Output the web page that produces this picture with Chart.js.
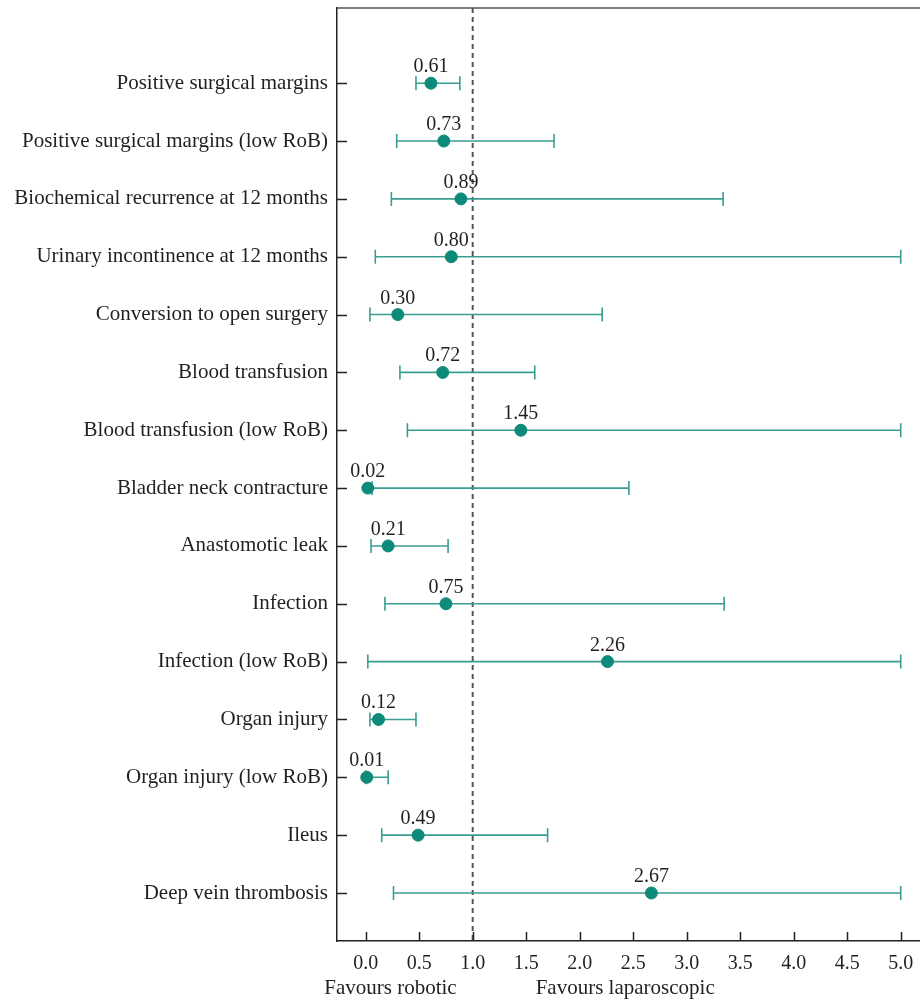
<!DOCTYPE html>
<html>
<head>
<meta charset="utf-8">
<script src="https://cdn.jsdelivr.net/npm/chart.js@4"></script>
<style>
  html, body { margin: 0; padding: 0; background: #fff; }
  #wrap { width: 920px; height: 1001px; position: relative; }
</style>
</head>
<body>
<div id="wrap"><canvas id="forest"></canvas></div>
<script>
var outcomes = [
  "Positive surgical margins",
  "Positive surgical margins (low RoB)",
  "Biochemical recurrence at 12 months",
  "Urinary incontinence at 12 months",
  "Conversion to open surgery",
  "Blood transfusion",
  "Blood transfusion (low RoB)",
  "Bladder neck contracture",
  "Anastomotic leak",
  "Infection",
  "Infection (low RoB)",
  "Organ injury",
  "Organ injury (low RoB)",
  "Ileus",
  "Deep vein thrombosis"
];
var estimate = [0.61, 0.73, 0.89, 0.80, 0.30, 0.72, 1.45, 0.02, 0.21, 0.75, 2.26, 0.12, 0.01, 0.49, 2.67];
var lower = [0.47, 0.29, 0.24, 0.09, 0.04, 0.32, 0.39, 0.06, 0.05, 0.18, 0.02, 0.04, 0.00, 0.15, 0.26];
var upper = [0.88, 1.76, 3.34, 5.00, 2.21, 1.58, 5.00, 2.46, 0.77, 3.35, 5.00, 0.47, 0.21, 1.70, 5.00];
var xTicks = [0.0, 0.5, 1.0, 1.5, 2.0, 2.5, 3.0, 3.5, 4.0, 4.5, 5.0];

var serif = "'Liberation Serif', 'DejaVu Serif', serif";
var ink = "#231f20";
var pointColor = "#0d8a79";
var lineColor = "#3a9d91";

var points = estimate.map(function (v, i) { return { x: v, y: i }; });

// whiskers, caps, value labels, null line, inner ticks, footer text
var forestPlugin = {
  id: "forest",
  beforeDatasetsDraw: function (chart) {
    var ctx = chart.ctx, x = chart.scales.x, y = chart.scales.y, a = chart.chartArea;
    ctx.save();
    // reference line at 1
    ctx.strokeStyle = "#555";
    ctx.lineWidth = 2;
    ctx.setLineDash([5, 4]);
    ctx.beginPath();
    ctx.moveTo(x.getPixelForValue(1), a.top);
    ctx.lineTo(x.getPixelForValue(1), a.bottom);
    ctx.stroke();
    ctx.setLineDash([]);
    // CI whiskers
    ctx.strokeStyle = lineColor;
    ctx.lineWidth = 1.6;
    for (var i = 0; i < outcomes.length; i++) {
      var py = y.getPixelForValue(i);
      var l = x.getPixelForValue(lower[i]), r = x.getPixelForValue(upper[i]);
      ctx.beginPath();
      ctx.moveTo(l, py); ctx.lineTo(r, py);
      ctx.moveTo(l, py - 7); ctx.lineTo(l, py + 7);
      ctx.moveTo(r, py - 7); ctx.lineTo(r, py + 7);
      ctx.stroke();
    }
    ctx.restore();
  },
  afterDraw: function (chart) {
    var ctx = chart.ctx, x = chart.scales.x, y = chart.scales.y, a = chart.chartArea;
    ctx.save();
    // value labels
    ctx.fillStyle = ink;
    ctx.font = "20px " + serif;
    ctx.textAlign = "center";
    ctx.textBaseline = "alphabetic";
    for (var i = 0; i < estimate.length; i++) {
      ctx.fillText(estimate[i].toFixed(2), x.getPixelForValue(estimate[i]), y.getPixelForValue(i) - 11);
    }
    // inside ticks
    ctx.strokeStyle = "#222";
    ctx.lineWidth = 1.5;
    ctx.beginPath();
    for (var j = 0; j < outcomes.length; j++) {
      var ty = Math.round(y.getPixelForValue(j)) + 0.5;
      ctx.moveTo(a.left, ty); ctx.lineTo(a.left + 10, ty);
    }
    xTicks.forEach(function (t) {
      var tx = Math.round(x.getPixelForValue(t)) + 0.5;
      ctx.moveTo(tx, a.bottom); ctx.lineTo(tx, a.bottom - 9);
    });
    ctx.stroke();
    // top frame
    ctx.strokeStyle = "#555";
    ctx.lineWidth = 1.5;
    ctx.beginPath();
    ctx.moveTo(a.left, a.top); ctx.lineTo(chart.width, a.top);
    ctx.stroke();
    // favours labels
    var one = x.getPixelForValue(1);
    ctx.fillStyle = ink;
    ctx.font = "21px " + serif;
    ctx.textBaseline = "middle";
    ctx.textAlign = "right";
    ctx.fillText("Favours robotic", one - 16, 988);
    ctx.textAlign = "left";
    ctx.fillText("Favours laparoscopic", one + 63, 988);
    ctx.restore();
  }
};

new Chart(document.getElementById("forest"), {
  type: "scatter",
  data: {
    datasets: [{
      data: points,
      backgroundColor: pointColor,
      borderColor: pointColor,
      pointRadius: 6,
      pointHoverRadius: 6,
      clip: false
    }]
  },
  plugins: [forestPlugin],
  options: {
    responsive: true,
    maintainAspectRatio: false,
    animation: false,
    layout: { autoPadding: false, padding: { top: 8, right: 0, bottom: 0, left: 0 } },
    plugins: { legend: { display: false }, tooltip: { enabled: false } },
    scales: {
      x: {
        type: "linear",
        min: -0.268,
        max: 5.18,
        afterBuildTicks: function (s) { s.ticks = xTicks.map(function (v) { return { value: v }; }); },
        afterFit: function (s) { s.height = 60; s.paddingLeft = 0; s.paddingRight = 0; },
        grid: { display: false, drawTicks: false },
        border: { display: true, color: "#222", width: 1.5 },
        ticks: {
          padding: 11,
          color: ink,
          font: { family: serif, size: 20 },
          maxRotation: 0,
          callback: function (v) { return Number(v).toFixed(1); }
        }
      },
      y: {
        type: "linear",
        reverse: true,
        min: -1.3,
        max: 14.83,
        afterBuildTicks: function (s) { s.ticks = outcomes.map(function (_, i) { return { value: i }; }); },
        afterFit: function (s) { s.width = 337; s.paddingTop = 0; s.paddingBottom = 0; },
        grid: { display: false, drawTicks: false },
        border: { display: true, color: "#222", width: 1.5 },
        ticks: {
          padding: 9,
          color: ink,
          font: { family: serif, size: 21 },
          callback: function (v) { return outcomes[v]; }
        }
      }
    }
  }
});
</script>
</body>
</html>
